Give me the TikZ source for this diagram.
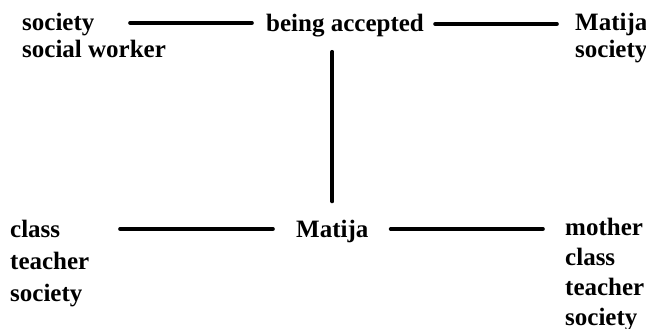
\documentclass[tikz,border=0pt]{standalone}
\usepackage{fontspec}
\setmainfont{Liberation Serif}
\begin{document}
\begin{tikzpicture}[x=1pt, y=-1pt,
  lbl/.style={inner sep=0pt, anchor=base west, align=left,
    font=\bfseries\fontsize{25}{#1}\selectfont},
  lbl/.default=27,
  link/.style={line width=3.6pt, line cap=round}]
\useasboundingbox (0,0) rectangle (646,329);

% word clusters (anchored at the baseline of their last line)
\node[lbl=27] (tl) at (22,58) {society\\social worker};
\node[lbl]    (ba) at (266,32) {being accepted};
\node[lbl=27] (tr) at (575,58) {Matija\\society};
\node[lbl]    (m)  at (296,237) {Matija};
\node[lbl=32] (bl) at (10,301) {class\\teacher\\society};
\node[lbl=30] (br) at (565,325) {mother\\class\\teacher\\society};

% free ends of the connectors on the left
\coordinate (tlend) at (130,23);
\coordinate (blend) at (120,229);

% connectors
\draw[link, shorten >=14pt] (tlend) -- (ba.west |- tlend);
\draw[link, shorten <=11pt, shorten >=18pt] (ba.east |- 0,24) -- (tr.west |- 0,24);
\draw[link, shorten <=14pt, shorten >=18pt] (m.north |- ba.south) -- (m.north);
\draw[link, shorten >=23pt] (blend) -- (m.west |- blend);
\draw[link, shorten <=22pt, shorten >=22pt] (m.east |- blend) -- (br.west |- blend);
\end{tikzpicture}
\end{document}
